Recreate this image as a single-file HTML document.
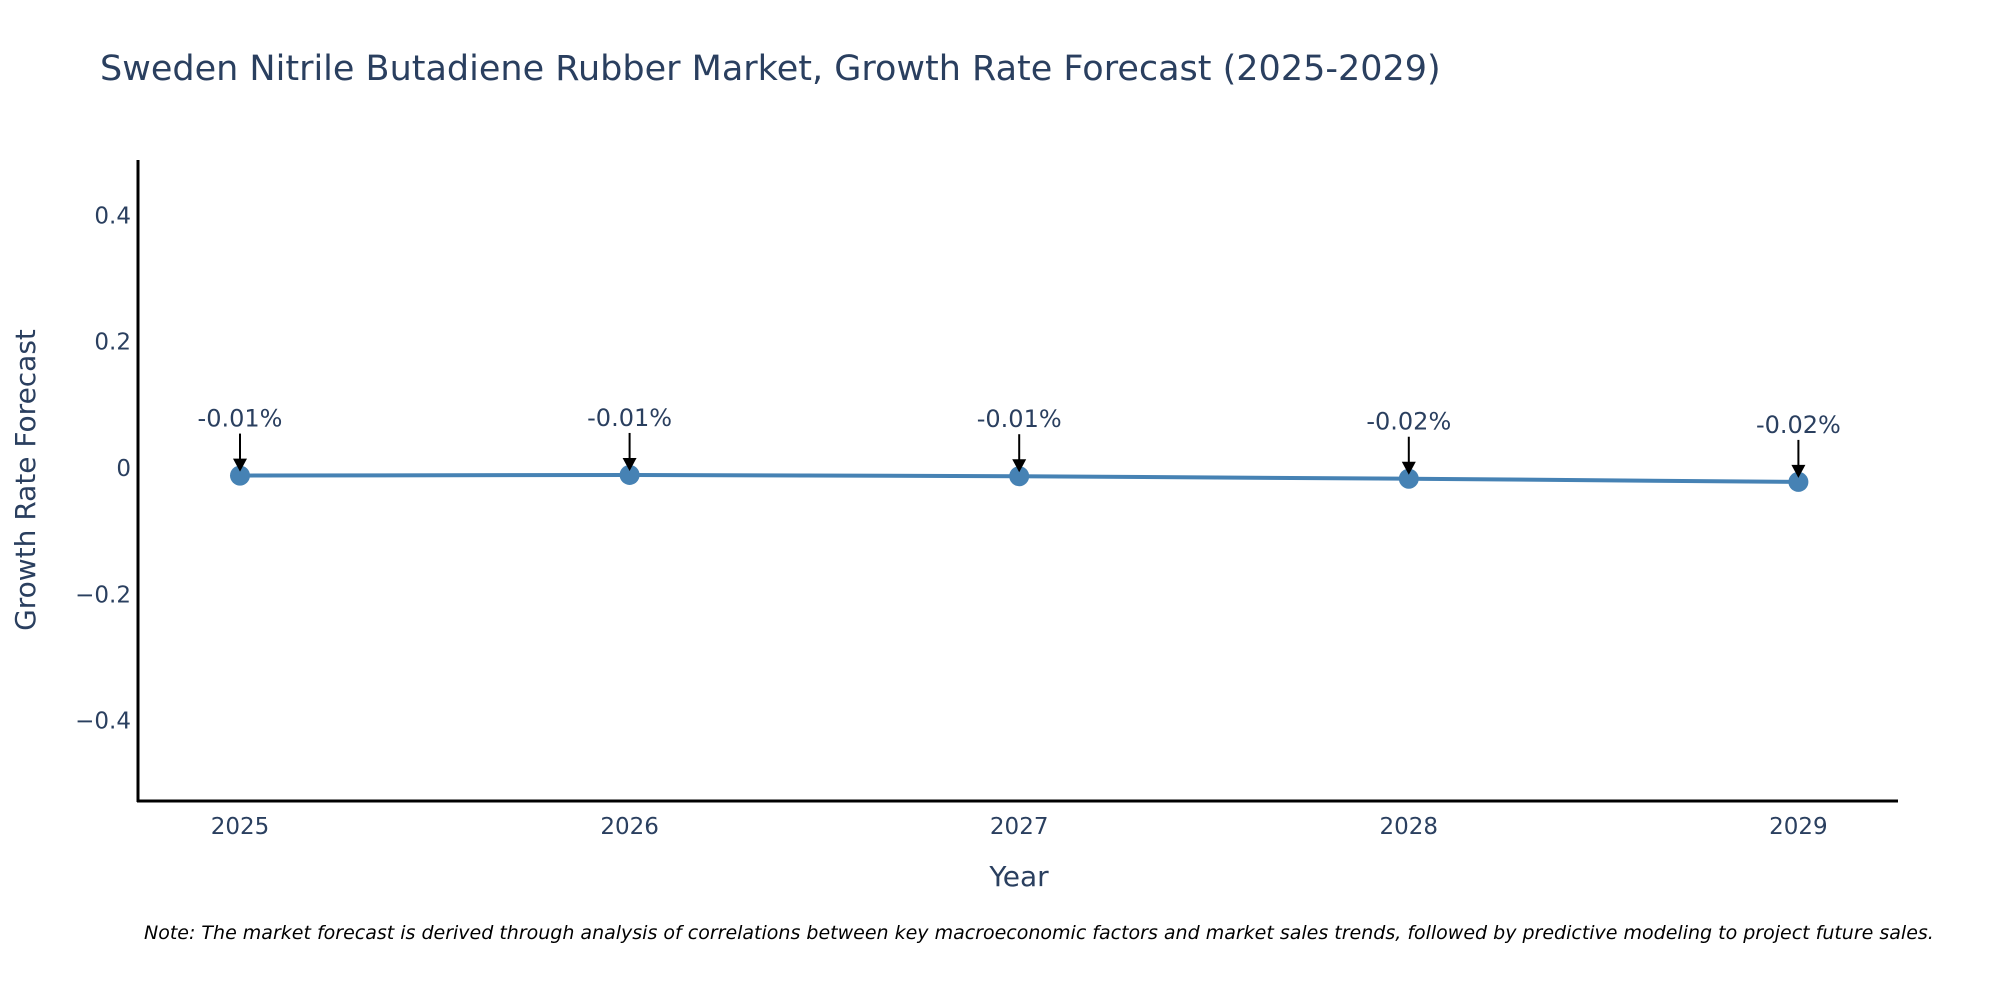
<!DOCTYPE html>
<html><head><meta charset="utf-8"><style>
body{margin:0;background:#fff;}
svg text{font-family:"DejaVu Sans","Liberation Sans",sans-serif;fill:#2a3f5f;}
</style></head><body>
<svg width="2000" height="1000" viewBox="0 0 2000 1000">
<text x="100" y="80" font-size="35">Sweden Nitrile Butadiene Rubber Market, Growth Rate Forecast (2025-2029)</text>
<g id="yticks"></g>
<g id="xticks"></g>
<line x1="138" y1="160" x2="138" y2="802" stroke="#000" stroke-width="3"/>
<line x1="137" y1="801" x2="1898" y2="801" stroke="#000" stroke-width="3"/>
<text transform="translate(35,480) rotate(-90)" text-anchor="middle" font-size="28">Growth Rate Forecast</text>
<text x="1019" y="886" text-anchor="middle" font-size="28">Year</text>
<path id="line" fill="none" stroke="#4682b4" stroke-width="4"/>
<g id="marks"></g>
<g id="annos"></g>
<text x="144" y="939" font-size="19" font-style="italic" style="fill:#000">Note: The market forecast is derived through analysis of correlations between key macroeconomic factors and market sales trends, followed by predictive modeling to project future sales.</text>
</svg>
<script>
const years = [2025, 2026, 2027, 2028, 2029];
const values = [-0.012, -0.011, -0.013, -0.017, -0.022];
const labels = ["-0.01%", "-0.01%", "-0.01%", "-0.02%", "-0.02%"];
const yTickVals = [0.4, 0.2, 0, -0.2, -0.4];
const yTickLabels = ["0.4", "0.2", "0", "\u22120.2", "\u22120.4"];

const NS = "http://www.w3.org/2000/svg";
function xs(yr){ return 240 + (yr - 2025) * 389.6; }
function ys(v){ return 468 - v * 631.5; }
function mk(tag, attrs, parent){ const e=document.createElementNS(NS,tag); for(const k in attrs) e.setAttribute(k,attrs[k]); parent.appendChild(e); return e; }

const yt=document.getElementById('yticks');
yTickVals.forEach((v,i)=>{
  const t=mk('text',{x:131,y:ys(v)+8,'text-anchor':'end','font-size':23},yt);
  
  
  t.textContent=yTickLabels[i];
});
const xt=document.getElementById('xticks');
years.forEach(yr=>{
  const t=mk('text',{x:xs(yr),y:834,'text-anchor':'middle','font-size':23},xt);
  
  
  t.textContent=String(yr);
});
document.getElementById('line').setAttribute('d', years.map((yr,i)=>(i?'L':'M')+xs(yr)+' '+ys(values[i])).join(' '));
const mg=document.getElementById('marks'), ag=document.getElementById('annos');
years.forEach((yr,i)=>{
  const x=xs(yr), y=ys(values[i]);
  const c=mk('circle',{cx:x,cy:y,r:10,fill:'#4682b4'},mg);
  
  
  const l=mk('line',{x1:x,y1:y-42,x2:x,y2:y-14,stroke:'#000','stroke-width':2},ag);
  
  
  const h=mk('path',{d:`M${x-7} ${y-17} L${x+7} ${y-17} L${x} ${y-4} Z`,fill:'#000'},ag);
  
  
  const t=mk('text',{x:x,y:y-49,'text-anchor':'middle','font-size':24},ag);
  
  
  t.textContent=labels[i];
});
</script>
</body></html>
